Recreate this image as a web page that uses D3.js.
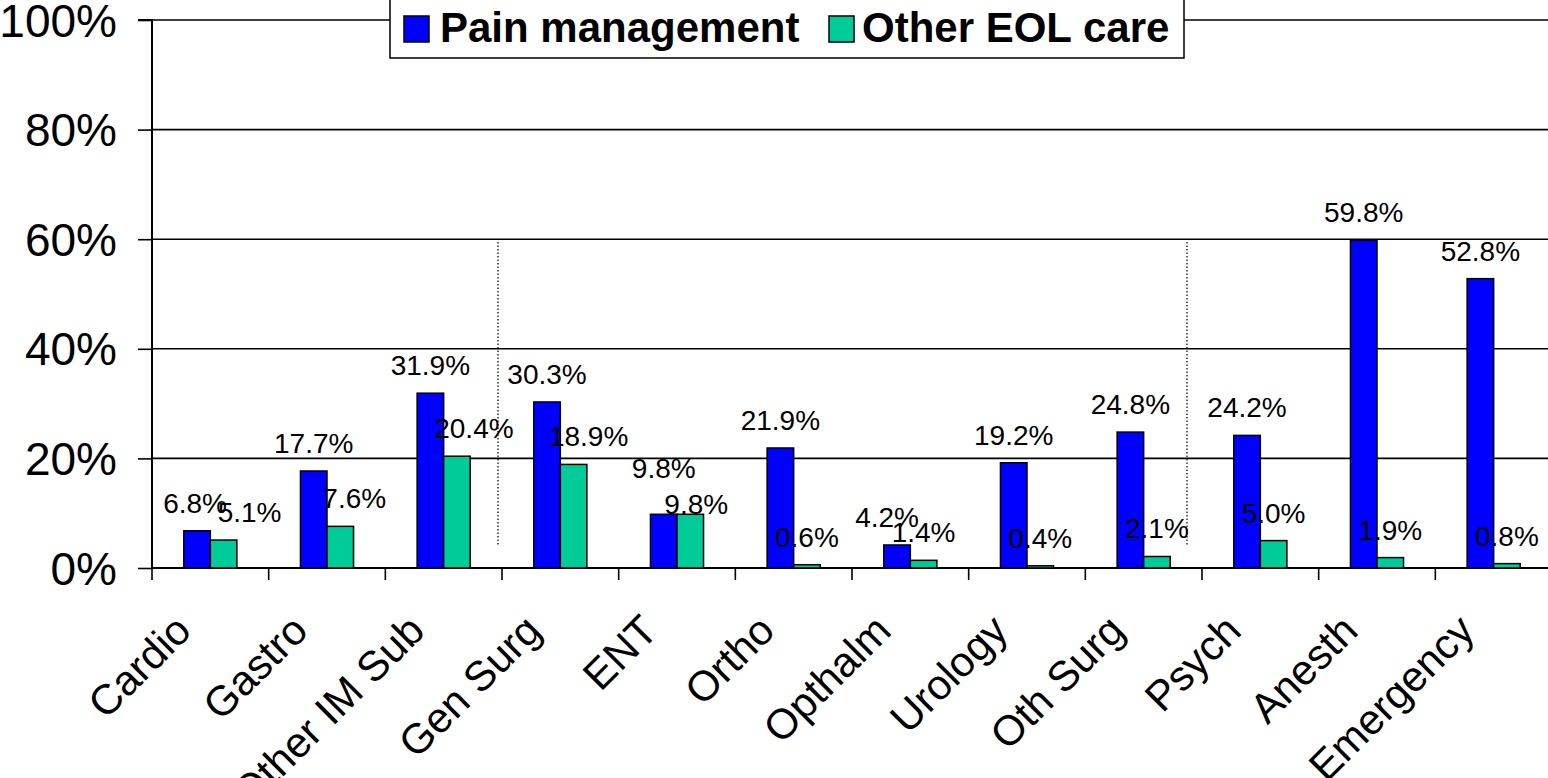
<!DOCTYPE html>
<html>
<head>
<meta charset="utf-8">
<script src="https://cdn.jsdelivr.net/npm/d3@7/dist/d3.min.js"></script>
<style>
html,body{margin:0;padding:0;background:#fff;overflow:hidden;}
svg{display:block;font-family:"Liberation Sans",Arial,sans-serif;}
</style>
</head>
<body>
<svg id="chart" width="1548" height="778"></svg>
<script>
// ---- data ----
const categories = ["Cardio","Gastro","Other IM Sub","Gen Surg","ENT","Ortho","Opthalm","Urology","Oth Surg","Psych","Anesth","Emergency"];
const painManagement = [6.8,17.7,31.9,30.3,9.8,21.9,4.2,19.2,24.8,24.2,59.8,52.8];
const otherEOLCare   = [5.1,7.6,20.4,18.9,9.8,0.6,1.4,0.4,2.1,5.0,1.9,0.8];
const seriesNames = ["Pain management","Other EOL care"];
const yTickValues = [0,20,40,60,80,100];
const separatorsAfter = ["Other IM Sub","Oth Surg"];

// ---- label nudges (manual placements in original) ----
const painLabelNudge  = [[-2,0],[0,0],[0,0],[0,0],[0,-18],[0,0],[-10,0],[0,0],[0,0],[0,0],[0,0],[0,0]];
const otherLabelNudge = [[26,0],[14,0],[17,0],[15,0],[6,18],[0,0],[0,0],[0,0],[0,0],[0,0],[0,0],[0,0]];
const separatorNudge = [-4,-15];

const colors = ["#0000FF","#00CC99"];
const svg = d3.select("#chart");
const mLeft = 152, mRight = 1552, mTop = 20, mBottom = 568;

const x0 = d3.scaleBand().domain(categories).range([mLeft, mRight]).padding(0);
const bw = x0.bandwidth();
const x1 = d3.scaleBand().domain(seriesNames).range([bw*0.2725, bw*0.7275]).padding(0);
const y = d3.scaleLinear().domain([0,100]).range([mBottom, mTop]);

const rows = categories.map((c,i)=>({cat:c, vals:[painManagement[i], otherEOLCare[i]], i}));

// gridlines
svg.append("g").selectAll("line").data(yTickValues.filter(v=>v>0)).join("line")
  .attr("x1", mLeft).attr("x2", 1548)
  .attr("y1", d=>y(d)).attr("y2", d=>y(d))
  .attr("stroke","#000").attr("stroke-width",1.6);

// y axis
const yAxis = d3.axisLeft(y).tickValues(yTickValues).tickSize(14).tickPadding(21).tickFormat(d=>d+"%");
const gy = svg.append("g").attr("transform",`translate(${mLeft},0)`).call(yAxis);
gy.select(".domain").attr("stroke","#000").attr("stroke-width",2).attr("d",`M-14,${mTop}H0V${mBottom}`);
gy.selectAll(".tick line").attr("stroke","#000").attr("stroke-width",1.6);
gy.selectAll(".tick text").attr("font-size",46).attr("fill","#000")
  .attr("font-family","'Liberation Sans',Arial,sans-serif").attr("dy","0.35em");

// x axis
const xTickPos = categories.map(c=>x0(c)).concat([mRight]);
svg.append("line").attr("x1",mLeft).attr("x2",1548).attr("y1",mBottom).attr("y2",mBottom)
  .attr("stroke","#000").attr("stroke-width",2);
svg.append("g").selectAll("line").data(xTickPos).join("line")
  .attr("x1",d=>d).attr("x2",d=>d).attr("y1",mBottom).attr("y2",mBottom+12)
  .attr("stroke","#000").attr("stroke-width",1.6);

// category labels
svg.append("g").selectAll("text").data(categories).join("text")
  .attr("transform", d=>`translate(${x0(d)+bw/2-17},633) rotate(-45)`)
  .attr("text-anchor","end").attr("font-size",42).attr("fill","#000").text(d=>d);

// separators (dotted)
svg.append("g").selectAll("line").data(separatorsAfter).join("line")
  .attr("x1",(d,i)=>x0(d)+bw+separatorNudge[i]).attr("x2",(d,i)=>x0(d)+bw+separatorNudge[i])
  .attr("y1",y(59.5)).attr("y2",y(4.2))
  .attr("stroke","#000").attr("stroke-width",1.2).attr("stroke-dasharray","1.5,2");

// bars
const groups = svg.append("g").selectAll("g").data(rows).join("g")
  .attr("transform", d=>`translate(${x0(d.cat)},0)`);
groups.selectAll("rect").data(d=>d.vals.map((v,k)=>({v,k}))).join("rect")
  .attr("x", d=>x1(seriesNames[d.k])).attr("width", x1.bandwidth())
  .attr("y", d=>y(d.v)).attr("height", d=>y(0)-y(d.v))
  .attr("fill", d=>colors[d.k]).attr("stroke","#000").attr("stroke-width",1.5);

// value labels
const nudges = [painLabelNudge, otherLabelNudge];
groups.each(function(row){
  const g = d3.select(this);
  row.vals.forEach((v,k)=>{
    const n = nudges[k][row.i];
    g.append("text")
      .attr("x", x1(seriesNames[k]) + x1.bandwidth()/2 + n[0])
      .attr("y", y(v) - 18 + n[1])
      .attr("text-anchor","middle").attr("font-size",28).attr("fill","#000")
      .text(v.toFixed(1)+"%");
  });
});

// legend
const lg = svg.append("g");
lg.append("rect").attr("x",390).attr("y",-5).attr("width",794).attr("height",63)
  .attr("fill","#fff").attr("stroke","#000").attr("stroke-width",1.5);
const legendItems = [{name:seriesNames[0], sx:404, tx:440},{name:seriesNames[1], sx:829, tx:862}];
legendItems.forEach((it,k)=>{
  lg.append("rect").attr("x",it.sx).attr("y",16).attr("width",25).attr("height",26)
    .attr("fill",colors[k]).attr("stroke","#000").attr("stroke-width",1.5);
  lg.append("text").attr("x",it.tx).attr("y",42).attr("font-size",42).attr("font-weight","bold")
    .attr("fill","#000").text(it.name);
});
</script>
</body>
</html>
